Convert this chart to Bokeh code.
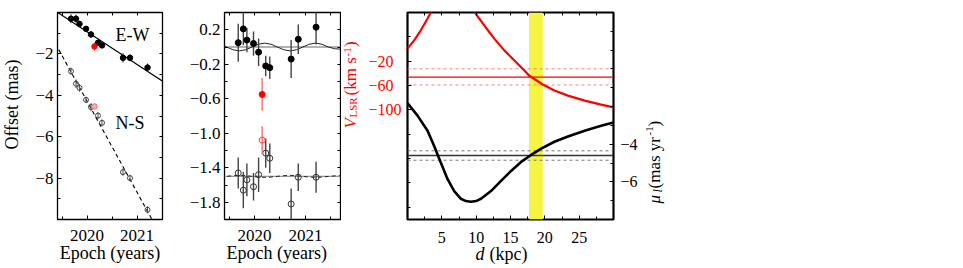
import math
from bokeh.plotting import figure
from bokeh.models import (LinearAxis, FixedTicker, CustomJSTickFormatter, Range1d, Label, Title,
                          Span, BoxAnnotation, ColumnDataSource)
from bokeh.layouts import row
from bokeh.embed import file_html
from bokeh.resources import INLINE

FONT = "Liberation Serif"

# ---------------- data ----------------
epoch = [2019.68, 2019.78, 2019.85, 2019.98, 2020.08, 2020.22, 2020.30, 2020.72, 2020.86, 2021.21]
epoch_red = [2020.15]
ew_off = [-0.30, -0.30, -0.55, -0.79, -1.06, -1.46, -1.59, -2.19, -2.19, -2.66]
ew_off_red = [-1.64]
ns_off = [-2.84, -3.44, -3.64, -4.22, -4.57, -4.98, -5.33, -7.71, -8.00, -9.53]
ns_off_red = [-4.54]
ew_err = [0.22, 0.19, 0.14, 0.14, 0.16, 0.12, 0.13, 0.22, 0.17, 0.20]
ew_err_red = [0.19]
ns_err = [0.18, 0.21, 0.19, 0.16, 0.20, 0.17, 0.17, 0.18, 0.16, 0.18]
ns_err_red = [0.16]

# fitted proper-motion lines (offset panel)
ew_fit_t = [2019.40, 2021.52]
ew_fit_y = [0.02, -3.33]
ns_fit_t = [2019.30, 2021.52]
ns_fit_y = [-1.20, -10.97]

# residuals (N-S shifted by -1.5 mas)
ew_res = [0.05, 0.21, 0.08, 0.04, -0.06, -0.22, -0.24, -0.14, 0.09, 0.23]
ew_res_red = [-0.55]
ns_res = [-1.46, -1.66, -1.54, -1.62, -1.48, -1.23, -1.29, -1.82, -1.51, -1.51]
ns_res_red = [-1.08]
res_zero = [0.0, -1.5]

# parallax model curves in residual panel
plx_t = [2019.325, 2019.45, 2019.575, 2019.70, 2019.825, 2019.95, 2020.075, 2020.20,
         2020.325, 2020.45, 2020.575, 2020.70, 2020.825, 2020.95, 2021.075, 2021.20,
         2021.325, 2021.45, 2021.575, 2021.70]
plx_ew = [0.032, 0.0, -0.032, -0.045, -0.032, 0.0, 0.032, 0.045,
          0.032, 0.0, -0.032, -0.045, -0.032, 0.0, 0.032, 0.045,
          0.032, 0.0, -0.02, -0.025]
plx_ns = [-1.508, -1.50, -1.492, -1.488, -1.492, -1.50, -1.508, -1.512,
          -1.508, -1.50, -1.492, -1.488, -1.492, -1.50, -1.508, -1.512,
          -1.508, -1.50, -1.494, -1.492]

# kinematic panel: V_LSR(d) and mu_l(d)
vl_d1 = [0.0, 0.97, 1.94, 2.92, 3.4, 3.9]
vl_v1 = [0.6, 14.3, 30.8, 50.1, 60.0, 70.0]
vl_d2 = [9.3, 9.82, 10.45, 11.18, 11.9, 12.64, 14.1, 15.56, 17.02, 17.7, 19.7, 21.4, 23.36, 25.8, 28.2, 30.0]
vl_v2 = [75.0, 60.0, 50.1, 39.0, 28.0, 17.1, -2.2, -18.7, -35.2, -43.5, -58.3, -68.2, -76.5, -84.7, -91.3, -95.8]
mu_d = [0.0, 1.46, 2.92, 3.88, 4.86, 5.84, 6.8, 7.78, 8.5, 9.24, 10.0, 10.7, 12.16, 13.62,
        15.08, 16.54, 18.0, 19.46, 21.4, 23.36, 25.8, 28.2, 30.0]
mu_v = [-1.81, -2.48, -3.28, -4.09, -4.98, -5.86, -6.49, -6.90, -7.02, -7.06, -7.02, -6.90, -6.49, -5.95,
        -5.42, -4.94, -4.57, -4.23, -3.87, -3.59, -3.28, -3.02, -2.84]
vlsr_obs = [-46.0]
vlsr_lim = [-32.5, -59.0]
mu_obs = [-4.6]
mu_lim = [-4.35, -4.85]
d_band = [17.7, 19.7]

# tick labels
p1_xticks = [2020, 2021]
p1_yticks = [-8, -6, -4, -2]
p2_yticks = [0.2, -0.2, -0.6, -1.0, -1.4, -1.8]
p3_xticks = [5, 10, 15, 20, 25]
p3_vticks = [-100, -60, -20]
p3_muticks = [-6, -4]

FIG_H = 268
TOP = 12
FRAME_H = 207
BOTTOM = FIG_H - TOP - FRAME_H
R = math.pi / 2


def fmt(dec, pad=0):
    code = "var s = tick.toFixed(%d).replace('-', '\\u2212');" % dec
    if pad:
        code += " while (s.length < %d) { s = s + '\\u2007'; }" % pad
    code += " return s;"
    return CustomJSTickFormatter(code=code)


def style_axis(ax, color="black", standoff=5, size="17px"):
    ax.axis_line_color = None
    ax.major_tick_in = 4
    ax.major_tick_out = 0
    ax.minor_tick_in = 3
    ax.minor_tick_out = 0
    ax.major_tick_line_color = "black"
    ax.minor_tick_line_color = "black"
    ax.major_label_text_font = FONT
    ax.major_label_text_font_size = size
    ax.major_label_text_color = color
    ax.major_label_standoff = standoff


def mirror(p, side, minor, range_name=None):
    kw = {}
    if range_name:
        kw["y_range_name"] = range_name
    ax = LinearAxis(ticker=FixedTicker(ticks=[], minor_ticks=minor), **kw)
    style_axis(ax, standoff=0)
    p.add_layout(ax, side)
    return ax


def base_fig(width, left, right, xr, yr):
    p = figure(width=width, height=FIG_H, x_range=xr, y_range=yr,
               x_axis_type=None, y_axis_type=None,
               toolbar_location=None, output_backend="svg")
    p.min_border_left = left
    p.min_border_right = right
    p.min_border_top = TOP
    p.min_border_bottom = BOTTOM
    p.background_fill_color = "white"
    p.border_fill_color = "white"
    return p


def make_fig(width, left, right, xr, yr, outline_w):
    p = base_fig(width, left, right, xr, yr)
    p.outline_line_color = "black"
    p.outline_line_width = outline_w
    return p


def text_fig(width):
    p = base_fig(width, 0, 0, Range1d(0, 1), Range1d(0, 1))
    p.outline_line_color = None
    return p


def lab(p, text, sx, sy, size="18px", color="black", style="normal", angle=0.0, align="left"):
    p.add_layout(Label(x=sx, y=sy, x_units="screen", y_units="screen", text=text,
                       text_font=FONT, text_font_size=size, text_color=color,
                       text_font_style=style, angle=angle, text_align=align,
                       text_baseline="alphabetic"))


def xtitle(p, text, align="center", offset=0, standoff=-2, style="normal"):
    p.add_layout(Title(text=text, align=align, offset=offset, standoff=standoff,
                       vertical_align="top", text_font=FONT, text_font_size="18px",
                       text_font_style=style, text_color="black"), "below")


# ---------------- panel 1: offsets ----------------
p1 = make_fig(145, 30, 10, Range1d(2019.41, 2021.51), Range1d(-10, 0), 1.3)
xa = LinearAxis(ticker=FixedTicker(ticks=p1_xticks, minor_ticks=[2019.5, 2020.5]), formatter=fmt(0))
style_axis(xa, standoff=10)
p1.add_layout(xa, "below")
ya = LinearAxis(ticker=FixedTicker(ticks=p1_yticks, minor_ticks=[-9, -7, -5, -3, -1]), formatter=fmt(0))
style_axis(ya, standoff=4)
p1.add_layout(ya, "left")
mirror(p1, "above", [2019.5, 2020, 2020.5, 2021])
mirror(p1, "right", [-9, -8, -7, -6, -5, -4, -3, -2, -1])
xtitle(p1, "Epoch (years)")

p1.line(ew_fit_t, ew_fit_y, line_color="black", line_width=1.2)
p1.line(ns_fit_t, ns_fit_y, line_color="black", line_width=1.1, line_dash="4 3")

s_ew = ColumnDataSource(dict(t=epoch, lo=[y - e for y, e in zip(ew_off, ew_err)],
                             hi=[y + e for y, e in zip(ew_off, ew_err)], y=ew_off))
s_ns = ColumnDataSource(dict(t=epoch, lo=[y - e for y, e in zip(ns_off, ns_err)],
                             hi=[y + e for y, e in zip(ns_off, ns_err)], y=ns_off))
p1.segment(x0="t", y0="lo", x1="t", y1="hi", source=s_ew, line_color="#444444", line_width=1.2)
p1.segment(x0="t", y0="lo", x1="t", y1="hi", source=s_ns, line_color="#555555", line_width=1.0)
p1.scatter(x="t", y="y", source=s_ew, size=5.5, marker="circle", fill_color="black", line_color="black")
p1.scatter(x="t", y="y", source=s_ns, size=5, marker="circle", fill_color=None,
           line_color="#444444", line_width=1)
p1.segment(x0=epoch_red, y0=[y - e for y, e in zip(ew_off_red, ew_err_red)], x1=epoch_red,
           y1=[y + e for y, e in zip(ew_off_red, ew_err_red)], line_color="#ff5050", line_width=1.2)
p1.scatter(epoch_red, ew_off_red, size=5.5, marker="circle", fill_color="red", line_color="red")
p1.scatter(epoch_red, ns_off_red, size=5.5, marker="circle", fill_color="#ffb0b0",
           line_color="#ff6060", line_width=1)
lab(p1, "E-W", 58, 185)
lab(p1, "N-S", 58, 97)

t1 = text_fig(27)
lab(t1, "Offset (mas)", 11, 115, angle=R, align="center")

# ---------------- panel 2: residuals ----------------
p2 = make_fig(169, 52, 1, Range1d(2019.41, 2021.69), Range1d(-2.0, 0.4), 1.3)
xa = LinearAxis(ticker=FixedTicker(ticks=p1_xticks, minor_ticks=[2019.5, 2020.5, 2021.5]), formatter=fmt(0))
style_axis(xa, standoff=10)
p2.add_layout(xa, "below")
ya = LinearAxis(ticker=FixedTicker(ticks=p2_yticks, minor_ticks=[0.0, -0.4, -0.8, -1.2, -1.6]),
                formatter=fmt(1))
style_axis(ya, standoff=4)
p2.add_layout(ya, "left")
mirror(p2, "above", [2019.5, 2020, 2020.5, 2021, 2021.5])
mirror(p2, "right", [0.2, 0.0, -0.2, -0.4, -0.6, -0.8, -1.0, -1.2, -1.4, -1.6, -1.8])
xtitle(p2, "Epoch (years)", align="left", offset=2)

for v in res_zero:
    p2.add_layout(Span(location=v, dimension="width", line_color="#999999", line_width=1.3,
                       level="underlay"))
p2.line(plx_t, plx_ew, line_color="#222222", line_width=1.0)
p2.line(plx_t, plx_ns, line_color="#222222", line_width=1.0, line_dash="4 3")

r_ew = ColumnDataSource(dict(t=epoch, lo=[y - e for y, e in zip(ew_res, ew_err)],
                             hi=[y + e for y, e in zip(ew_res, ew_err)], y=ew_res))
r_ns = ColumnDataSource(dict(t=epoch, lo=[y - e for y, e in zip(ns_res, ns_err)],
                             hi=[y + e for y, e in zip(ns_res, ns_err)], y=ns_res))
p2.segment(x0="t", y0="lo", x1="t", y1="hi", source=r_ew, line_color="#444444", line_width=1.4)
p2.segment(x0="t", y0="lo", x1="t", y1="hi", source=r_ns, line_color="#444444", line_width=1.4)
p2.scatter(x="t", y="y", source=r_ew, size=6, marker="circle", fill_color="black", line_color="black")
p2.scatter(x="t", y="y", source=r_ns, size=6, marker="circle", fill_color=None,
           line_color="#333333", line_width=1)
p2.segment(x0=epoch_red, y0=[y - e for y, e in zip(ew_res_red, ew_err_red)], x1=epoch_red,
           y1=[y + e for y, e in zip(ew_res_red, ew_err_red)], line_color="#ff6060", line_width=1.3)
p2.segment(x0=epoch_red, y0=[y - e for y, e in zip(ns_res_red, ns_err_red)], x1=epoch_red,
           y1=[y + e for y, e in zip(ns_res_red, ns_err_red)], line_color="#ff6060", line_width=1.3)
p2.scatter(epoch_red, ew_res_red, size=6, marker="circle", fill_color="red", line_color="red")
p2.scatter(epoch_red, ns_res_red, size=6, marker="circle", fill_color=None,
           line_color="#ff4040", line_width=1)

# ---------------- panel 3: kinematics ----------------
p3 = make_fig(277, 44, 27, Range1d(0, 30), Range1d(-280, 60), 2.2)
p3.extra_y_ranges = {"mu": Range1d(-8, 3)}
xa = LinearAxis(ticker=FixedTicker(ticks=p3_xticks, minor_ticks=[2.5, 7.5, 12.5, 17.5, 22.5, 27.5]),
                formatter=fmt(0))
style_axis(xa, standoff=12, size="16px")
p3.add_layout(xa, "below")
ya = LinearAxis(ticker=FixedTicker(ticks=p3_vticks, minor_ticks=[-260, -220, -180, -140, 20]),
                formatter=fmt(0, pad=4))
style_axis(ya, color="red", standoff=6, size="16px")
p3.add_layout(ya, "left")
ra = LinearAxis(y_range_name="mu", ticker=FixedTicker(ticks=p3_muticks,
                minor_ticks=[-7, -5, -3, -2, -1, 0, 1, 2]), formatter=fmt(0))
style_axis(ra, standoff=7, size="16px")
p3.add_layout(ra, "right")
mirror(p3, "above", [2.5, 5, 7.5, 10, 12.5, 15, 17.5, 20, 22.5, 25, 27.5])
xtitle(p3, "d", align="left", offset=68, standoff=-3, style="italic")
xtitle(p3, "(kpc)", align="left", offset=82, standoff=-41)

p3.add_layout(BoxAnnotation(left=d_band[0], right=d_band[1], fill_color="#f4f542", fill_alpha=1.0,
                            line_color=None, level="underlay"))
for v in vlsr_lim:
    p3.add_layout(Span(location=v, dimension="width", line_color="#ff8080", line_width=1.0,
                       line_dash="3 3", level="underlay"))
for v in vlsr_obs:
    p3.add_layout(Span(location=v, dimension="width", line_color="red", line_width=1.3,
                       level="underlay"))
for v in mu_lim:
    p3.add_layout(Span(location=v, dimension="width", y_range_name="mu", line_color="#777777",
                       line_width=1.0, line_dash="3 3", level="underlay"))
for v in mu_obs:
    p3.add_layout(Span(location=v, dimension="width", y_range_name="mu", line_color="#333333",
                       line_width=1.3, level="underlay"))

p3.line(vl_d1, vl_v1, line_color="red", line_width=2.2)
p3.line(vl_d2, vl_v2, line_color="red", line_width=2.2)
p3.line(mu_d, mu_v, y_range_name="mu", line_color="black", line_width=2.6)

# left (red) title: V_LSR (km s^-1)
t3l = text_fig(22)
lab(t3l, "V", 8.5, 91, size="17px", color="red", style="italic", angle=R)
lab(t3l, "LSR", 11.5, 102, size="11px", color="red", angle=R)
lab(t3l, "(km s", 8.5, 124, size="17px", color="red", angle=R)
lab(t3l, "-1", 5.5, 163, size="11px", color="red", angle=R)
lab(t3l, ")", 8.5, 172.5, size="17px", color="red", angle=R)

# right title: mu_l (mas yr^-1)
t3r = text_fig(32)
lab(t3r, "\u03bc", 14, 16, size="17px", style="italic", angle=R)
lab(t3r, "l", 17, 27, size="12px", style="italic", angle=R)
lab(t3r, "(mas yr", 14, 31, size="17px", angle=R)
lab(t3r, "-1", 9, 84, size="11px", angle=R)
lab(t3r, ")", 14, 93, size="17px", angle=R)

layout = row(t1, p1, p2, t3l, p3, t3r)
open("out.html", "w").write(file_html(layout, INLINE))
